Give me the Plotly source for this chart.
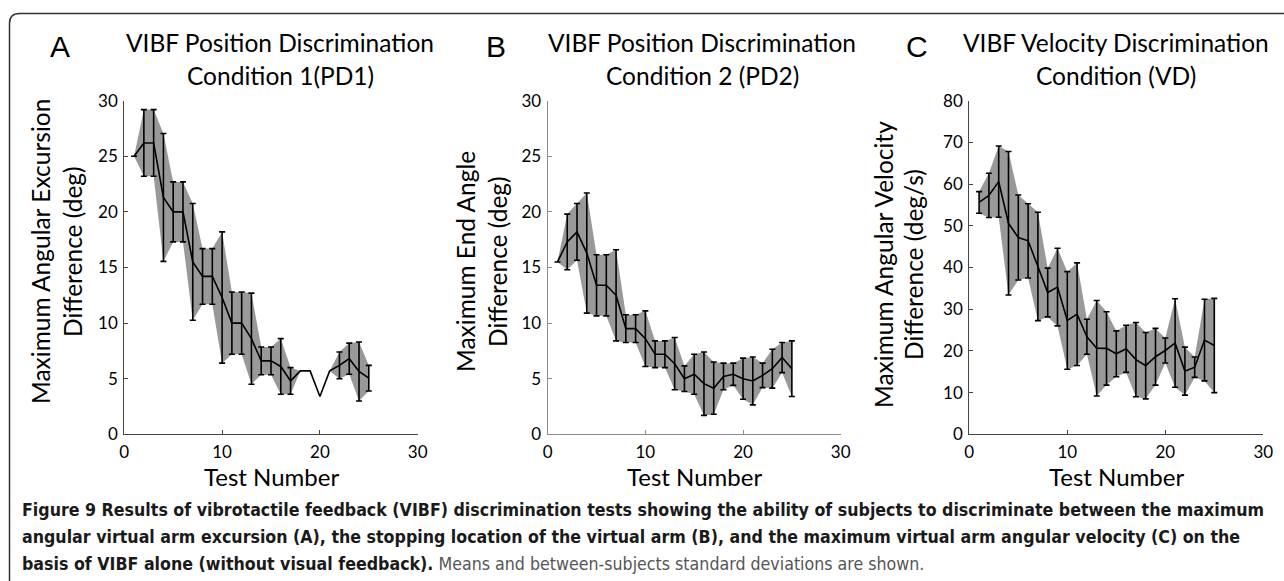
import plotly.graph_objects as go

W, H = 1284, 581

# ---------------- data ----------------
test_number = list(range(1, 26))

pd1_mean = [25.0, 26.2, 26.2, 21.3, 20.0, 20.0, 15.5, 14.2, 14.2, 12.3, 10.0, 10.0, 8.6,
            6.6, 6.6, 6.1, 4.8, 5.7, 5.7, 3.4, 5.7, 6.2, 6.8, 5.65, 5.05]
pd1_sd = [0.0, 3.0, 3.0, 5.75, 2.7, 2.7, 5.25, 2.5, 2.5, 5.9, 2.8, 2.8, 4.1,
          1.25, 1.25, 2.5, 1.2, None, None, None, None, 1.2, 1.4, 2.65, 1.15]

pd2_mean = [15.5, 17.3, 18.2, 16.3, 13.4, 13.4, 12.5, 9.5, 9.5, 8.6, 7.2, 7.2, 6.35,
            5.0, 5.4, 4.55, 4.15, 5.2, 5.4, 5.0, 4.8, 5.3, 5.9, 6.9, 5.9]
pd2_sd = [0.0, 2.5, 2.55, 5.4, 2.75, 2.75, 4.1, 1.25, 1.25, 2.5, 1.2, 1.2, 2.35,
          1.15, 1.8, 2.85, 2.35, 1.2, 1.0, 1.85, 2.15, 1.1, 1.75, 1.35, 2.5]

vd_mean = [55.6, 57.3, 60.6, 50.6, 47.2, 46.4, 40.25, 34.0, 35.3, 27.3, 28.8, 23.4, 20.65,
           20.6, 19.3, 20.5, 17.9, 16.45, 18.6, 20.1, 21.9, 15.15, 16.1, 22.6, 21.3]
vd_sd = [2.6, 5.3, 8.55, 17.2, 10.2, 8.9, 13.0, 5.85, 9.3, 11.7, 12.3, 4.2, 11.45,
         8.8, 5.5, 5.65, 8.9, 7.95, 6.8, 3.0, 10.6, 5.75, 2.45, 9.8, 11.3]

x_ticks = [0, 10, 20, 30]
panels = [
    dict(letter="A", title=["VIBF Position Discrimination", "Condition 1(PD1)"],
         ytitle=["Maximum Angular Excursion", "Difference (deg)"],
         mean=pd1_mean, sd=pd1_sd, yrange=[0, 30], yticks=[0, 5, 10, 15, 20, 25, 30],
         axcolor="#444444"),
    dict(letter="B", title=["VIBF Position Discrimination", "Condition 2 (PD2)"],
         ytitle=["Maximum End Angle", "Difference (deg)"],
         mean=pd2_mean, sd=pd2_sd, yrange=[0, 30], yticks=[0, 5, 10, 15, 20, 25, 30],
         axcolor="#8c8c8c"),
    dict(letter="C", title=["VIBF Velocity Discrimination", "Condition (VD)"],
         ytitle=["Maximum Angular Velocity", "Difference (deg/s)"],
         mean=vd_mean, sd=vd_sd, yrange=[0, 80], yticks=[0, 10, 20, 30, 40, 50, 60, 70, 80],
         axcolor="#444444"),
]

caption_lines = [
    "<b>Figure 9 Results of vibrotactile feedback (VIBF) discrimination tests showing the ability of subjects to discriminate between the maximum</b>",
    "<b>angular virtual arm excursion (A), the stopping location of the virtual arm (B), and the maximum virtual arm angular velocity (C) on the</b>",
    "<b>basis of VIBF alone (without visual feedback).</b> <span style='color:#555555'>Means and between-subjects standard deviations are shown.</span>",
]

# ---------------- layout geometry (pixels) ----------------
def fx(px):
    return px / W

def fy(py):
    return 1 - py / H

x_domains_px = [(124.3, 417.7), (547.7, 840.7), (969.3, 1263.3)]
y_domain_px = (100.7, 434.3)
letter_x = [60, 496, 917]
title_cx = [280, 702, 1116]
ytitle_x = [(40, 72), (465, 497), (883, 913)]
ytitle_cy = [252, 262, 265]

MAIN_FONT = "Lato"
fig = go.Figure()
annotations = []

def ann(text, px, py, size, family=MAIN_FONT, xanchor="center", angle=0, color="black"):
    annotations.append(dict(text=text, x=fx(px), y=fy(py), xref="paper", yref="paper",
                            xanchor=xanchor, yanchor="middle", showarrow=False,
                            textangle=angle,
                            font=dict(family=family, size=size, color=color)))

for i, p in enumerate(panels):
    xa = "x" if i == 0 else f"x{i+1}"
    ya = "y" if i == 0 else f"y{i+1}"
    n = test_number
    upper = [m + (s or 0) for m, s in zip(p["mean"], p["sd"])]
    lower = [m - (s or 0) for m, s in zip(p["mean"], p["sd"])]
    fig.add_trace(go.Scatter(
        x=n + n[::-1], y=upper + lower[::-1], fill="toself",
        fillcolor="#999999", line=dict(width=0), mode="lines",
        hoverinfo="skip", showlegend=False, xaxis=xa, yaxis=ya))
    fig.add_trace(go.Scatter(
        x=n, y=p["mean"], mode="lines", line=dict(color="black", width=1.6),
        showlegend=False, xaxis=xa, yaxis=ya))
    ex = [xx for xx, s in zip(n, p["sd"]) if s is not None]
    ey = [m for m, s in zip(p["mean"], p["sd"]) if s is not None]
    es = [s for s in p["sd"] if s is not None]
    fig.add_trace(go.Scatter(
        x=ex, y=ey, mode="markers", marker=dict(size=1, color="rgba(0,0,0,0)"),
        error_y=dict(type="data", array=es, visible=True, color="black",
                     thickness=1.6, width=3),
        showlegend=False, xaxis=xa, yaxis=ya))

    x0, x1 = x_domains_px[i]
    axis_common = dict(showline=True, linewidth=1.2, linecolor=p["axcolor"],
                       ticks="inside", ticklen=4, tickcolor=p["axcolor"],
                       showgrid=False, zeroline=False, automargin=False,
                       tickfont=dict(family=MAIN_FONT, size=17, color="black"))
    fig.update_layout(**{
        ("xaxis" if i == 0 else f"xaxis{i+1}"): dict(
            domain=[fx(x0), fx(x1)], range=[0, 30], tickvals=x_ticks,
            anchor=ya, ticklabelstandoff=2, **axis_common),
        ("yaxis" if i == 0 else f"yaxis{i+1}"): dict(
            domain=[fy(y_domain_px[1]), fy(y_domain_px[0])], range=p["yrange"],
            tickvals=p["yticks"], anchor=xa, ticklabelstandoff=2, **axis_common),
    })

    ann(p["letter"], letter_x[i], 47, 30, family="Liberation Sans")
    for k, line in enumerate(p["title"]):
        ann(line, title_cx[i], [43, 75][k], 24.5)
    for k, line in enumerate(p["ytitle"]):
        ann(line, ytitle_x[i][k], ytitle_cy[i], 24.5, angle=-90)
    ann("Test Number", (x0 + x1) / 2, 476, 24)

for k, line in enumerate(caption_lines):
    ann(line, 20, [510, 537, 564][k], 17.65, family="DejaVu Sans Condensed",
        xanchor="left", color="#1a1a1a")

# rounded frame (open at the right and bottom edges, like the reference crop)
L, T, R, B, r = 9.5, 13.5, 1295, 600, 10
path = (f"M {fx(L)},{fy(B)} L {fx(L)},{fy(T + r)} Q {fx(L)},{fy(T)} {fx(L + r)},{fy(T)} "
        f"L {fx(R - r)},{fy(T)} Q {fx(R)},{fy(T)} {fx(R)},{fy(T + r)} L {fx(R)},{fy(B)}")
shapes = [dict(type="path", path=path, xref="paper", yref="paper",
               line=dict(color="#333333", width=1.5))]

fig.update_layout(template="none", width=W, height=H,
                  margin=dict(l=0, r=0, t=0, b=0, pad=0, autoexpand=False),
                  paper_bgcolor="white", plot_bgcolor="white",
                  annotations=annotations, shapes=shapes, showlegend=False)

fig.write_html(
    "out.html",
    post_script=("document.body.style.margin='0';"
                 "document.body.style.overflow='hidden';"
                 "document.documentElement.style.overflow='hidden';"),
)
